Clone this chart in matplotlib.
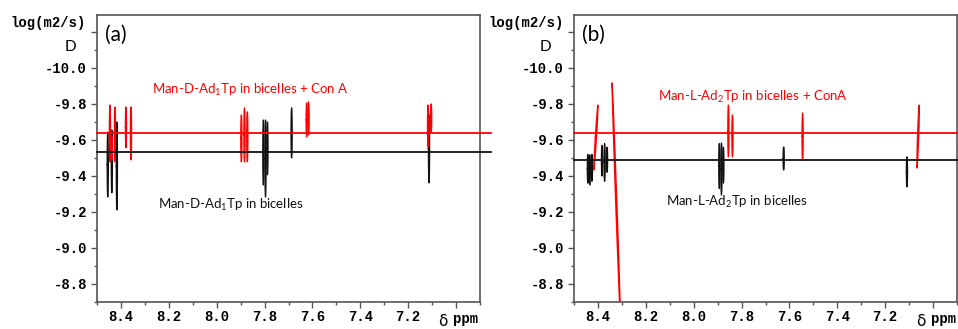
import numpy as np
import matplotlib
matplotlib.use("Agg")
import matplotlib.pyplot as plt

plt.rcParams['mathtext.fontset'] = 'custom'
plt.rcParams['mathtext.rm'] = 'Lato'
plt.rcParams['mathtext.it'] = 'Lato'

# ---------------- data ----------------
x_ticks = [8.4, 8.2, 8.0, 7.8, 7.6, 7.4, 7.2, 7.0]
x_ticklabels = ["8.4", "8.2", "8.0", "7.8", "7.6", "7.4", "7.2", ""]
y_ticks = [-10.2, -10.0, -9.8, -9.6, -9.4, -9.2, -9.0, -8.8]
y_ticklabels = ["", "-10.0", "-9.8", "-9.6", "-9.4", "-9.2", "-9.0", "-8.8"]

# panel (a): peaks (ppm_top, D_top, ppm_bottom, D_bottom)
a_red_peaks = [
    (8.446, -9.794, 8.446, -9.478),
    (8.425, -9.783, 8.425, -9.478),
    (8.438, -9.620, 8.438, -9.490),
    (8.379, -9.783, 8.379, -9.556),
    (8.358, -9.783, 8.358, -9.489),
    (7.897, -9.739, 7.897, -9.478),
    (7.884, -9.778, 7.884, -9.478),
    (7.872, -9.756, 7.872, -9.478),
    (7.624, -9.806, 7.624, -9.617),
    (7.616, -9.811, 7.616, -9.628),
    (7.117, -9.794, 7.117, -9.561),
    (7.104, -9.800, 7.104, -9.639),
]
a_black_peaks = [
    (8.455, -9.644, 8.455, -9.283),
    (8.438, -9.656, 8.438, -9.306),
    (8.417, -9.700, 8.417, -9.211),
    (7.805, -9.711, 7.805, -9.350),
    (7.796, -9.711, 7.796, -9.283),
    (7.788, -9.700, 7.788, -9.406),
    (7.687, -9.778, 7.687, -9.500),
    (7.113, -9.739, 7.113, -9.361),
]
a_red_D = -9.637
a_black_D = -9.533

# panel (b)
b_red_peaks = [
    (8.400, -9.794, 8.417, -9.433),
    (8.341, -9.917, 8.306, -8.600),
    (7.855, -9.794, 7.855, -9.506),
    (7.838, -9.739, 7.838, -9.506),
    (7.545, -9.750, 7.545, -9.489),
    (7.058, -9.794, 7.067, -9.444),
]
b_black_peaks = [
    (8.442, -9.520, 8.442, -9.360),
    (8.434, -9.517, 8.434, -9.350),
    (8.425, -9.520, 8.425, -9.370),
    (8.383, -9.570, 8.383, -9.400),
    (8.372, -9.580, 8.372, -9.370),
    (8.362, -9.560, 8.362, -9.420),
    (7.893, -9.580, 7.893, -9.330),
    (7.884, -9.583, 7.884, -9.294),
    (7.876, -9.560, 7.876, -9.360),
    (7.624, -9.561, 7.624, -9.433),
    (7.109, -9.506, 7.109, -9.339),
]
b_red_D = -9.637
b_black_D = -9.489

red_labels = [r"Man-D-Ad$_1$Tp in bicelles + Con A", r"Man-L-Ad$_2$Tp in bicelles + ConA"]
black_labels = [r"Man-D-Ad$_1$Tp in bicelles", r"Man-L-Ad$_2$Tp in bicelles"]
panel_labels = ["(a)", "(b)"]

RED = "#ff0000"
BLK = "#111111"
MONO = "Liberation Mono"

fig = plt.figure(figsize=(9.58, 3.29), dpi=100)
axA = fig.add_axes([97/958, 1-302/329, 383/958, 287/329])
axB = fig.add_axes([574/958, 1-302/329, 383/958, 287/329])

def draw_peak(ax, pk, color, w=0.0025):
    xt, yt, xb, yb = pk
    s = np.linspace(0, 2*np.pi, 60)
    frac = (1 - np.sin(s)) / 2
    xs = xt + (xb - xt)*frac + w*np.cos(s)
    ys = yt + (yb - yt)*frac
    ax.plot(xs, ys, color=color, lw=0.9, solid_joinstyle='round')

panels = [
    (axA, a_red_peaks, a_black_peaks, a_red_D, a_black_D),
    (axB, b_red_peaks, b_black_peaks, b_red_D, b_black_D),
]

red_pos = [(250, 90), (753, 97)]
black_pos = [(231, 205), (737, 202)]

for i, (ax, rp, bp, rD, bD) in enumerate(panels):
    ax.set_xlim(8.5, 6.9)
    ax.set_ylim(-8.7, -10.294)
    for pk in bp:
        draw_peak(ax, pk, BLK)
    for pk in rp:
        draw_peak(ax, pk, RED)
    ext = 1.03 if i == 0 else 1.0
    ax.axhline(rD, xmin=0, xmax=ext, color=RED, lw=1.3, clip_on=False, zorder=5)
    ax.axhline(bD, xmin=0, xmax=ext, color=BLK, lw=1.3, clip_on=False, zorder=5)

    ax.set_xticks(x_ticks)
    ax.set_xticklabels(x_ticklabels)
    ax.set_xticks(np.arange(6.9, 8.55, 0.1), minor=True)
    ax.set_yticks(y_ticks)
    ax.set_yticklabels(y_ticklabels)
    ax.set_yticks(np.arange(-10.2, -8.65, 0.1), minor=True)
    for lab in ax.get_xticklabels() + ax.get_yticklabels():
        lab.set_fontfamily(MONO)
        lab.set_fontweight('bold')
        lab.set_fontsize(10)
    ax.tick_params(axis='both', which='major', direction='out', length=4.3, width=1, color='#555555')
    ax.tick_params(axis='both', which='minor', direction='out', length=2, width=1, color='#555555')
    ax.tick_params(axis='x', which='major', pad=1.5)
    ax.tick_params(axis='y', which='major', pad=3)
    for sp in ax.spines.values():
        sp.set_color('#555555')
        sp.set_linewidth(1.2)

    ax.text(0.05, 0.93, panel_labels[i], transform=ax.transAxes, ha='center', va='center',
            fontsize=15, family='Lato')

# figure-level texts (pixel positions)
def ftext(px, py, s, **kw):
    fig.text(px/958, 1-py/329, s, **kw)

for i, off in enumerate([0, 478]):
    ftext(48+off, 23, "log(m2/s)", ha='center', va='center', family=MONO, weight='bold', fontsize=10)
    ftext(70+off-3*i, 47, "D", ha='center', va='center', family='Lato', fontsize=11)
    ftext(443+off, 322, "δ", ha='center', va='center', family='DejaVu Sans', fontsize=11)
    ftext(466+off, 319, "ppm", ha='center', va='center', family=MONO, weight='bold', fontsize=10)

for i in range(2):
    ftext(*red_pos[i], red_labels[i], ha='center', va='center', color=RED, family='Lato', fontsize=9.5)
    ftext(*black_pos[i], black_labels[i], ha='center', va='center', color=BLK, family='Lato', fontsize=9.5)

fig.savefig("out.png", dpi=100)
